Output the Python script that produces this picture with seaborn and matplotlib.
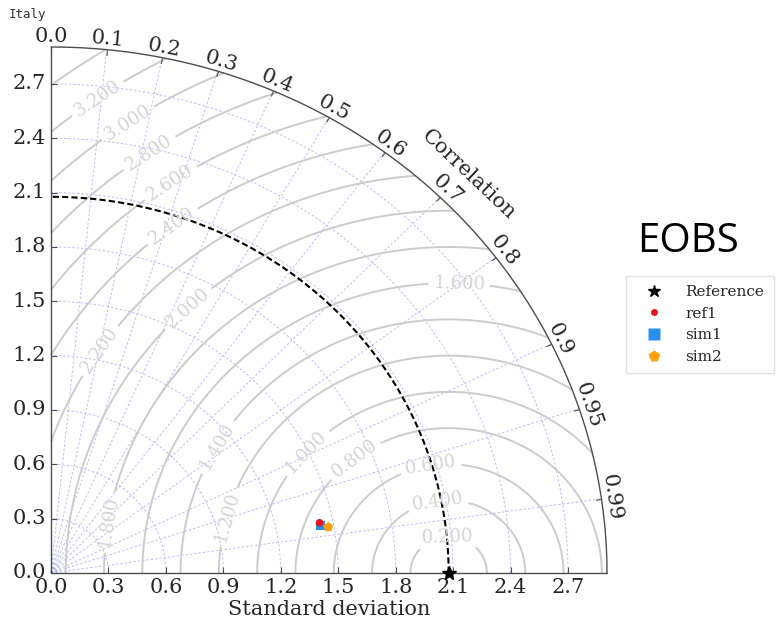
import numpy as np
import matplotlib
matplotlib.use("Agg")
import matplotlib.pyplot as plt
import pandas as pd
import seaborn as sns
from matplotlib.lines import Line2D
from matplotlib.projections import PolarAxes
import mpl_toolkits.axisartist.floating_axes as FA
import mpl_toolkits.axisartist.grid_finder as GF

# ---- data -------------------------------------------------------------
region = "Italy"
dataset = "EOBS"
ref_std = 2.077
std_max = 2.904
corr_ticks = [0.0, 0.1, 0.2, 0.3, 0.4, 0.5, 0.6, 0.7, 0.8, 0.9, 0.95, 0.99]
corr_labels = ["0.0", "0.1", "0.2", "0.3", "0.4", "0.5", "0.6", "0.7",
               "0.8", "0.9", "0.95", "0.99"]
std_ticks = [0.0, 0.3, 0.6, 0.9, 1.2, 1.5, 1.8, 2.1, 2.4, 2.7]
rms_levels = [0.2, 0.4, 0.6, 0.8, 1.0, 1.2, 1.4, 1.6, 1.8, 2.0, 2.2,
              2.4, 2.6, 2.8, 3.0, 3.2, 3.4]
sample_names = ["ref1", "sim1", "sim2"]
sample_std = [1.430, 1.432, 1.470]
sample_corr = [0.981, 0.983, 0.985]
sample_colors = {"ref1": "#e8141c", "sim1": "#2a8ef0", "sim2": "#ffa010"}
sample_markers = {"ref1": "o", "sim1": "s", "sim2": "p"}
sample_sizes = {"ref1": 30, "sim1": 42, "sim2": 55}

# where each RMS label sits: level -> angle (deg) around the reference point
rms_label_angle = {0.2: 92, 0.4: 98, 0.6: 99, 0.8: 128, 1.0: 138, 1.2: 165,
                   1.4: 150, 1.6: 88, 1.8: 171, 2.0: 133, 2.2: 146, 2.4: 127,
                   2.6: 124, 2.8: 124, 3.0: 124, 3.2: 125}

# ---- style ------------------------------------------------------------
sns.set_style("white")
plt.rcParams["font.family"] = ["DejaVu Serif"]
plt.rcParams["axes.edgecolor"] = "0.3"
plt.rcParams["axes.linewidth"] = 1.0

fig = plt.figure(figsize=(7.76, 6.23), dpi=100)

# ---- Taylor diagram frame (quarter polar, floating axes) ---------------
tr = PolarAxes.PolarTransform(apply_theta_transforms=False)
tlocs = np.arccos(corr_ticks)
gl1 = GF.FixedLocator(tlocs)
tf1 = GF.DictFormatter(dict(zip(tlocs, corr_labels)))
gl2 = GF.FixedLocator(std_ticks)
tf2 = GF.DictFormatter({s: f"{s:.1f}" for s in std_ticks})
ghelper = FA.GridHelperCurveLinear(tr, extremes=(0, np.pi / 2, 0, std_max),
                                   grid_locator1=gl1, tick_formatter1=tf1,
                                   grid_locator2=gl2, tick_formatter2=tf2)

# floating axes pad their limits by 2 %, so the frame rect is enlarged to match
inner_w, inner_h = 556, 526
rect_w, rect_h = inner_w * 1.02, inner_h * 1.02
rect = [(51 - 0.01 * inner_w) / 776, (623 - 573 - 0.01 * inner_h) / 623,
        rect_w / 776, rect_h / 623]
ax = FA.FloatingAxes(fig, rect, grid_helper=ghelper)
fig.add_axes(ax)
ax.set_aspect("auto")

ax.axis["top"].set_axis_direction("bottom")
ax.axis["top"].toggle(ticklabels=True, label=True)
ax.axis["top"].major_ticklabels.set_axis_direction("top")
ax.axis["top"].label.set_axis_direction("top")
ax.axis["top"].label.set_text("Correlation")

ax.axis["left"].set_axis_direction("bottom")
ax.axis["left"].label.set_text("Standard deviation")

ax.axis["right"].set_axis_direction("top")
ax.axis["right"].toggle(ticklabels=True)
ax.axis["right"].major_ticklabels.set_axis_direction("left")
ax.axis["bottom"].set_visible(False)

for name in ("top", "left", "right"):
    ax.axis[name].major_ticklabels.set_fontsize(15)
    ax.axis[name].major_ticklabels.set_color("0.15")
    ax.axis[name].label.set_fontsize(15)
    ax.axis[name].label.set_color("0.15")
    ax.axis[name].major_ticks.set_ticksize(4)
    ax.axis[name].major_ticks.set_color("0.3")
    ax.axis[name].line.set_color("0.3")

ax.grid(True, color="#a0a0f0", linestyle=(0, (2.5, 2)), linewidth=0.7, alpha=0.7)

pax = ax.get_aux_axes(tr)

# centred RMS difference contours
rs, ts = np.meshgrid(np.linspace(0, std_max, 300), np.linspace(0, np.pi / 2, 300))
rms = np.sqrt(ref_std ** 2 + rs ** 2 - 2 * ref_std * rs * np.cos(ts))
cs = pax.contour(ts, rs, rms, levels=rms_levels, colors="0.8", linewidths=1.4)

label_pos = []
for lev, ang in rms_label_angle.items():
    xx = ref_std + lev * np.cos(np.radians(ang))
    yy = lev * np.sin(np.radians(ang))
    label_pos.append((np.arctan2(yy, xx), np.hypot(xx, yy)))
pax.clabel(cs, inline=True, fontsize=13, fmt="%.3f", colors="0.83",
           manual=label_pos)

# reference std arc and point
t = np.linspace(0, np.pi / 2, 200)
pax.plot(t, np.full_like(t, ref_std), color="black", ls=(0, (3, 1.5)), lw=1.5)
pax.plot([0], [ref_std], "k*", ms=10, clip_on=False, zorder=10)

# samples
df = pd.DataFrame({"name": sample_names,
                   "theta": np.arccos(sample_corr),
                   "std": sample_std})
draw_order = ["sim1", "ref1", "sim2"]
sns.scatterplot(data=df.set_index("name").loc[draw_order].reset_index(),
                x="theta", y="std", hue="name", style="name", size="name",
                palette=sample_colors, markers=sample_markers, sizes=sample_sizes,
                linewidth=0, legend=False, ax=pax, zorder=5)

# legend
handles = [Line2D([], [], ls="", marker="*", color="black", ms=9)]
for n, ms in zip(sample_names, [5, 8, 8.5]):
    handles.append(Line2D([], [], ls="", marker=sample_markers[n],
                          color=sample_colors[n], mec="none", ms=ms))
fig.legend(handles, ["Reference"] + sample_names, loc="upper left",
           bbox_to_anchor=(626 / 776, 1 - 276 / 623), fontsize=11,
           numpoints=1, fancybox=False, edgecolor="0.85", borderpad=0.6,
           handlelength=2.5, borderaxespad=0)

fig.text(637 / 776, 1 - 252 / 623, dataset, fontsize=29, family="Open Sans",
         va="baseline", ha="left", color="black")
fig.text(9 / 776, 1 - 18 / 623, region, fontsize=9, family="DejaVu Sans Mono",
         va="baseline", ha="left", color="0.2")

fig.savefig("out.png", dpi=100)
